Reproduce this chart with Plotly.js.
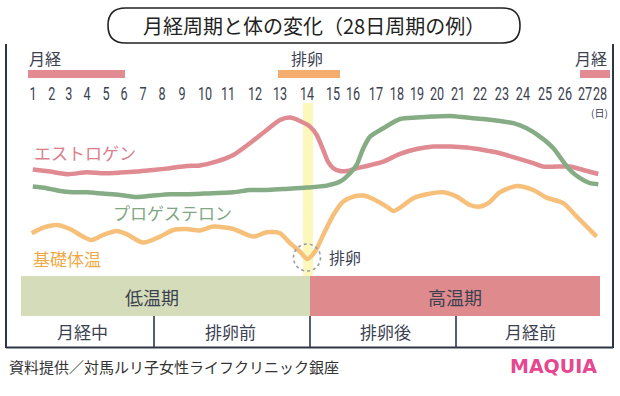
<!DOCTYPE html>
<html>
<head>
<meta charset="utf-8">
<script src="https://cdn.plot.ly/plotly-3.0.1.min.js"></script>
<style>
html,body{margin:0;padding:0;background:#fff;}
#chart{width:620px;height:396px;}
</style>
</head>
<body>
<div id="chart"></div>
<script>
// ---- data ----
const days = [1,2,3,4,5,6,7,8,9,10,11,12,13,14,15,16,17,18,19,20,21,22,23,24,25,26,27,28];
// position of each day label along the drawn time axis (hand-drawn, slightly uneven)
const dayTickPos = [1.00,1.90,2.71,3.57,4.48,5.33,6.24,7.14,8.10,9.19,10.29,11.57,12.76,14.05,
  15.29,16.24,17.33,18.33,19.29,20.24,21.24,22.29,23.33,24.33,25.38,26.33,27.29,28.00];

const estrogenT = [0.99,1.81,2.68,3.56,4.33,5.14,5.94,6.71,7.52,8.32,8.95,9.76,10.54,11.33,12.13,12.76,13.24,13.71,14.19,14.51,14.82,15.06,15.30,15.62,15.94,16.41,16.89,17.68,18.48,19.27,20.06,20.86,21.65,22.44,23.24,24.03,24.82,25.30,25.94,26.57,27.20,27.92];
const estrogenLv = [65.3,64.2,62.9,63.9,63.4,63.7,64.2,65.0,65.9,67.0,67.3,69.3,72.5,78.4,85.0,90.0,91.2,89.5,86.7,82.5,75.0,68.9,65.9,64.5,64.5,65.9,67.0,69.2,73.1,75.5,76.7,76.7,76.2,75.0,73.4,70.9,68.4,66.7,66.7,66.7,65.0,63.0];

const progesteroneT = [0.99,1.65,2.29,2.90,3.56,4.33,5.14,5.94,6.71,7.52,8.32,9.10,10.54,11.33,12.13,12.92,14.03,14.99,15.62,16.10,16.41,16.73,17.05,17.68,18.48,19.27,20.05,20.86,21.65,22.44,23.24,23.87,24.51,25.14,25.78,26.25,26.57,27.05,27.52,27.92];
const progesteroneLv = [56.7,55.9,54.5,53.9,53.9,53.2,52.5,51.5,52.2,52.9,52.9,53.2,53.9,55.0,55.0,55.5,56.2,57.2,59.2,63.4,67.5,75.9,81.7,85.9,90.5,91.2,91.7,92.0,91.2,90.5,89.5,88.4,85.9,81.7,75.9,69.2,65.0,60.9,58.4,57.9];

const bbtT = [0.94,1.49,2.13,2.76,3.38,3.80,4.33,4.99,5.46,6.25,7.05,7.68,8.32,8.95,9.59,10.54,11.49,12.13,12.76,13.24,13.71,14.06,14.43,14.82,15.30,15.78,16.25,16.73,17.20,17.84,18.16,18.48,19.11,19.75,20.54,21.18,21.81,22.29,22.68,23.24,24.03,24.82,25.46,26.25,26.89,27.37,27.84];
const bbtLv = [33.4,36.2,37.5,35.5,31.7,30.0,32.5,34.5,32.9,28.7,31.7,35.0,35.5,34.8,36.7,35.5,31.7,33.9,33.4,28.4,24.2,20.5,24.2,32.5,42.5,49.2,51.7,52.2,50.5,46.7,44.5,46.2,50.9,52.9,53.9,51.7,47.5,46.7,48.4,53.9,57.0,55.0,51.2,48.4,41.7,36.7,31.7];

const seriesNames = ['エストロゲン','プロゲステロン','基礎体温'];
const phaseNames = ['低温期','高温期'];
const stageNames = ['月経中','排卵前','排卵後','月経前'];

// ---- helpers (pixel -> paper) ----
const W = 620, H = 396;
const X = p => p / W;
const Y = p => 1 - p / H;
const ink = '#3b4150';
const jp = '"Noto Sans CJK JP", "Noto Sans", sans-serif';

function line(t, v, color) {
  return {type:'scatter', mode:'lines', x:t, y:v, hoverinfo:'skip', showlegend:false,
    line:{color:color, width:4.5, shape:'spline', smoothing:0.7}};
}
const traces = [
  line(estrogenT, estrogenLv, '#df8b91'),
  line(progesteroneT, progesteroneLv, '#86ac85'),
  line(bbtT, bbtLv, '#f6c07b')
];

function rect(x0,y0,x1,y1,fill,layer){
  return {type:'rect', xref:'paper', yref:'paper', x0:X(x0), x1:X(x1), y0:Y(y1), y1:Y(y0),
    fillcolor:fill, line:{width:0}, layer:layer||'below'};
}
function seg(x0,y0,x1,y1,color,w){
  return {type:'line', xref:'paper', yref:'paper', x0:X(x0), x1:X(x1), y0:Y(y0), y1:Y(y1),
    line:{color:color, width:w}, layer:'above'};
}
// rounded title box path
function stadium(x0,y0,x1,y1){
  const r = (y1-y0)/2;
  const p = (x,y)=> X(x).toFixed(5)+','+Y(y).toFixed(5);
  return 'M'+p(x0+r,y0)+' L'+p(x1-r,y0)+' Q'+p(x1,y0)+' '+p(x1,y0+r)+' Q'+p(x1,y1)+' '+p(x1-r,y1)+
    ' L'+p(x0+r,y1)+' Q'+p(x0,y1)+' '+p(x0,y0+r)+' Q'+p(x0,y0)+' '+p(x0+r,y0)+' Z';
}

const frame = '#2c3648';
const shapes = [
  {type:'path', xref:'paper', yref:'paper', path:stadium(108,8,520,43), line:{color:'#222', width:1.6}, fillcolor:'rgba(0,0,0,0)'},
  // menstruation / ovulation bars
  rect(28,70,125,78,'#e28b93'),
  rect(278,70,340,78,'#f3ad6e'),
  rect(580,70,610,78,'#e28b93'),
  // ovulation stripe
  rect(303,103,313,276,'rgba(250,242,150,0.65)'),
  // phase bands
  rect(21,276,310,316,'#d5dcb9'),
  rect(310,276,600,316,'#df8a8d'),
  // frame
  seg(6,44,6,348,frame,2),
  seg(613,44,613,348,frame,2),
  seg(6,347.5,613,347.5,frame,2),
  seg(154,316,154,347,frame,1.6),
  seg(310,316,310,347,frame,1.6),
  seg(456,316,456,347,frame,1.6),
  // dashed circle at ovulation
  {type:'circle', xref:'paper', yref:'paper', x0:X(293.5), x1:X(320.5), y0:Y(271), y1:Y(244),
    line:{color:'#9c9ea3', width:1.6, dash:'dot'}, layer:'above'}
];

function txt(text,x,y,size,color,opts){
  return Object.assign({text:text, xref:'paper', yref:'paper', x:X(x), y:Y(y), showarrow:false,
    xanchor:'center', yanchor:'middle', font:{family:jp, size:size, color:color}}, opts||{});
}
const annotations = [
  txt('月経周期と体の変化（28日周期の例）',314,26,20,'#222'),
  txt('月経',45,58,16,ink),
  txt('排卵',307,58,16,ink),
  txt('月経',591,58,16,ink),
  txt('(日)',599,112,10,ink),
  txt(seriesNames[0],85,152,17,'#d9808a'),
  txt(seriesNames[1],172,212,17,'#7fa784'),
  txt(seriesNames[2],67,258,17,'#f0a945'),
  txt('排卵',345,257,16,ink),
  txt(phaseNames[0],152,297,18,ink),
  txt(phaseNames[1],455,297,18,ink),
  txt(stageNames[0],82,331,17,ink),
  txt(stageNames[1],230,331,17,ink),
  txt(stageNames[2],385,331,17,ink),
  txt(stageNames[3],530,331,17,ink),
  txt('資料提供／対馬ルリ子女性ライフクリニック銀座',7,366,15,'#333',{xanchor:'left'}),
  txt('<b>MAQUIA</b>',553,366,19,'#e6478f',{font:{family:'"DejaVu Sans", sans-serif', size:19, color:'#e6478f'}})
];

const tToPx0 = 33, pxPerDay = 21;
const layout = {
  width:W, height:H,
  margin:{l:0,r:0,t:0,b:0},
  paper_bgcolor:'#ffffff', plot_bgcolor:'rgba(0,0,0,0)',
  xaxis:{range:[1 - tToPx0/pxPerDay, 1 + (W - tToPx0)/pxPerDay], anchor:'free', position:Y(81),
    showgrid:false, zeroline:false, showline:false, ticks:'', tickangle:0,
    tickmode:'array', tickvals:dayTickPos, ticktext:days.map(String),
    tickfont:{family:'Roboto, "DejaVu Sans", sans-serif', size:18, color:ink},
    fixedrange:true},
  yaxis:{range:[-48,150], visible:false, fixedrange:true},
  shapes:shapes,
  annotations:annotations
};

Plotly.newPlot('chart', traces, layout, {staticPlot:true, displayModeBar:false}).then(function(gd){
  // the reference uses a very condensed numeral face: narrow the day labels horizontally
  gd.querySelectorAll('.xtick text').forEach(function(t){
    const x = parseFloat(t.getAttribute('x') || '0');
    const tr = t.getAttribute('transform') || '';
    t.setAttribute('transform', tr + ' translate(' + x + ',0) scale(0.7,1) translate(' + (-x) + ',0)');
  });
});
</script>
</body>
</html>
